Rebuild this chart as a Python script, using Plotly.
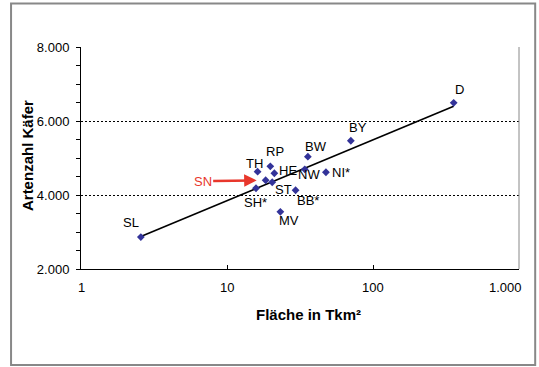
import numpy as np
import plotly.graph_objects as go

# Data
laender = ["SL", "SH*", "TH", "SN", "RP", "ST", "HE", "MV", "BB*", "NW", "BW", "NI*", "BY", "D"]
flaeche = [2.57, 15.8, 16.2, 18.4, 19.8, 20.4, 21.1, 23.2, 29.5, 34.1, 35.8, 47.6, 70.5, 357]
artenzahl = [2863, 4183, 4631, 4399, 4776, 4345, 4588, 3544, 4129, 4695, 5035, 4615, 5466, 6490]

x_ticks = [1, 10, 100, 1000]
x_ticktext = ["1", "10", "100", "1.000"]
y_ticks = [2000, 4000, 6000, 8000]
y_ticktext = ["2.000", "4.000", "6.000", "8.000"]

# label offsets (pixels) for each point label
label_dx = {"SL": -10, "SH*": -1, "TH": -3, "RP": 5, "ST": 11, "HE": 14, "MV": 9,
            "BB*": 12, "NW": 4, "BW": 8, "NI*": 15, "BY": 7, "D": 6}
label_dy = {"SL": 15, "SH*": -14, "TH": 8, "RP": 15, "ST": -7, "HE": 3, "MV": -9,
            "BB*": -10, "NW": -5, "BW": 10, "NI*": 0, "BY": 13, "D": 13}

FONT = "Arial, Liberation Sans, sans-serif"

# plot-area geometry in pixels (for paper-coordinate conversion of decorations)
L, R, T, B = 81, 519.3, 46.7, 269.3
PW, PH = R - L, B - T


def px(xp):
    return (xp - L) / PW


def py(yp):
    return (B - yp) / PH


# logarithmic trend line (least squares in log10(x))
lx = np.log10(flaeche)
b, a = np.polyfit(lx, artenzahl, 1)
trend_x = [min(flaeche), max(flaeche)]
trend_y = [a + b * np.log10(v) for v in trend_x]

fig = go.Figure()
fig.add_trace(go.Scatter(x=trend_x, y=trend_y, mode="lines",
                         line=dict(color="black", width=1.6), hoverinfo="skip",
                         showlegend=False))
fig.add_trace(go.Scatter(x=flaeche, y=artenzahl, mode="markers",
                         marker=dict(symbol="diamond", size=6, color="#333399"),
                         text=laender, showlegend=False))

annotations = []
for name, xv, yv in zip(laender, flaeche, artenzahl):
    if name == "SN":
        annotations.append(dict(x=np.log10(xv), y=yv, xref="x", yref="y", text="SN",
                                showarrow=True, ax=-63, ay=1, arrowcolor="#e8372c",
                                arrowwidth=2.5, arrowhead=2, arrowsize=1, standoff=9,
                                font=dict(family=FONT, size=13, color="#e8372c")))
    else:
        annotations.append(dict(x=np.log10(xv), y=yv, xref="x", yref="y", text=name,
                                showarrow=False, xshift=label_dx[name], yshift=label_dy[name],
                                xanchor="center", yanchor="middle",
                                font=dict(family=FONT, size=13, color="black")))

# x tick labels (the last one sits left of its tick, as in the original)
label_shift = [0, 0, 0, -14]
for tv, tt, sh in zip(x_ticks, x_ticktext, label_shift):
    annotations.append(dict(x=np.log10(tv), y=py(288), xref="x", yref="paper", text=tt,
                            showarrow=False, xshift=sh, xanchor="center", yanchor="middle",
                            font=dict(family=FONT, size=13, color="black")))

annotations.append(dict(x=px(309), y=py(315), xref="paper", yref="paper",
                        text="<b>Fläche in Tkm²</b>", showarrow=False,
                        xanchor="center", yanchor="middle",
                        font=dict(family=FONT, size=15, color="black")))
annotations.append(dict(x=px(27), y=py(156), xref="paper", yref="paper",
                        text="<b>Artenzahl Käfer</b>", showarrow=False, textangle=-90,
                        xanchor="center", yanchor="middle",
                        font=dict(family=FONT, size=15, color="black")))

fig.update_layout(
    width=539, height=367,
    margin=dict(l=L, r=539 - R, t=T, b=367 - B, autoexpand=False),
    paper_bgcolor="white", plot_bgcolor="white",
    separators=",.",
    font=dict(family=FONT, size=13, color="black"),
    annotations=annotations,
    shapes=[
        dict(type="rect", xref="paper", yref="paper",
             x0=px(11), x1=px(535.5), y0=py(365.5), y1=py(3),
             line=dict(color="#888888", width=2)),
        dict(type="line", xref="paper", yref="paper", x0=1, x1=1, y0=0, y1=1,
             line=dict(color="#888888", width=1)),
    ],
)

fig.update_xaxes(type="log", range=[0, 3], tickvals=x_ticks, showticklabels=False,
                 showgrid=False, showline=True, linecolor="black", linewidth=1,
                 ticks="inside", ticklen=4, tickcolor="black", zeroline=False,
                 automargin=False)
fig.update_yaxes(range=[2000, 8000], tickvals=y_ticks, ticktext=y_ticktext,
                 showgrid=True, gridcolor="black", gridwidth=1, griddash="2px,2px",
                 showline=True, linecolor="black", linewidth=1,
                 ticks="outside", ticklen=4, tickcolor="black", zeroline=False,
                 automargin=False, ticklabelstandoff=4,
                 minor=dict(dtick=500, ticks="outside", ticklen=4, tickcolor="black", showgrid=False),
                 tickfont=dict(family=FONT, size=13, color="black"))

fig.write_html("out.html", config={"displayModeBar": False},
               post_script="document.body.style.margin='0';")
